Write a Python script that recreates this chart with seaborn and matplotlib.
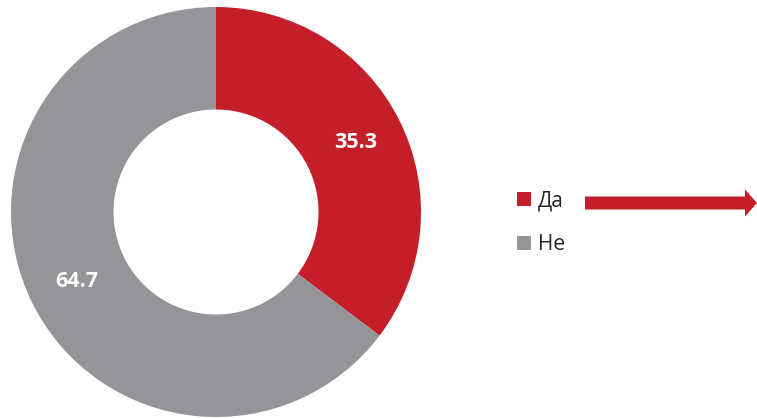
import matplotlib.pyplot as plt
import seaborn as sns
from matplotlib.patches import Patch, FancyArrow

# data
categories = ["Да", "Не"]
values = [35.3, 64.7]
colors = ["#C41F28", "#939598"]

sns.set_theme(style="white")
plt.rcParams['font.family'] = ['Open Sans', 'DejaVu Sans']

W, H = 757, 418
fig = plt.figure(figsize=(W / 100, H / 100), dpi=100)

# donut centered at (216, 212) px, radius 205 px
cx, cy, r = 216, 212, 205
ax = fig.add_axes([(cx - r) / W, (H - cy - r) / H, 2 * r / W, 2 * r / H])
wedges, texts, autotexts = ax.pie(
    values, colors=colors, startangle=90, counterclock=False,
    radius=1, wedgeprops=dict(width=0.5, linewidth=0),
    autopct=lambda p: f"{p:.1f}", pctdistance=0.76,
)
for t in autotexts:
    t.set_color("white")
    t.set_fontsize(15.5)
    t.set_fontweight("bold")
ax.set_xlim(-1, 1)
ax.set_ylim(-1, 1)
ax.set_aspect("equal")
ax.axis("off")

# legend
handles = [Patch(facecolor=c, edgecolor="none", label=l) for c, l in zip(colors, categories)]
fig.legend(handles=handles, loc="upper left", bbox_to_anchor=(507 / W, 1 - 180 / H),
           frameon=False, fontsize=15, handlelength=0.65, handleheight=0.65,
           handletextpad=0.35, labelspacing=1.1, borderpad=0)

# arrow pointing right
arrow = FancyArrow(585 / W, 1 - 203 / H, (757 - 585) / W, 0, width=13 / H,
                   head_width=27 / H, head_length=12 / W, length_includes_head=True,
                   color=colors[0], linewidth=0, transform=fig.transFigure)
fig.patches.append(arrow)

fig.savefig("out.png", dpi=100)
